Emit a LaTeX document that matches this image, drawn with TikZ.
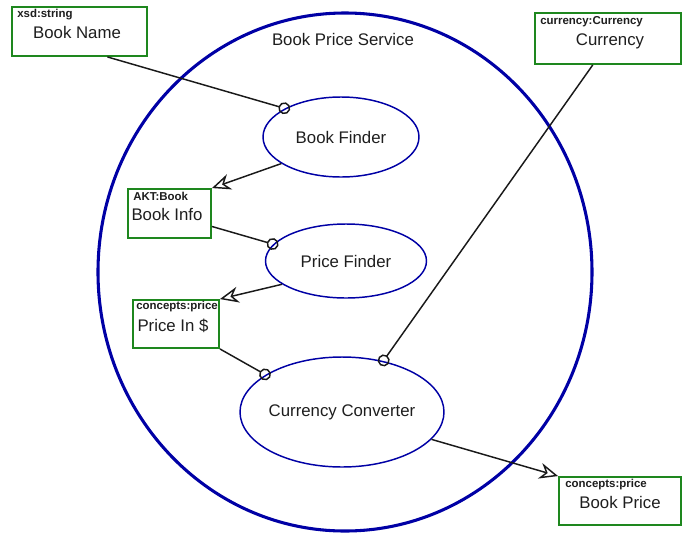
\documentclass[tikz,border=0pt]{standalone}
\usepackage{fontspec}
\setmainfont{Liberation Sans}
\usetikzlibrary{shapes.geometric,arrows.meta,calc}
\definecolor{svcblue}{RGB}{0,0,165}
\definecolor{boxgreen}{RGB}{30,135,30}
\definecolor{txt}{RGB}{30,30,30}
\tikzset{
  service/.style={ellipse,draw=svcblue,line width=1.1pt,inner sep=0pt},
  databox/.style={rectangle,draw=boxgreen,line width=1.4pt,fill=white,inner sep=0pt},
  typelbl/.style={anchor=west,inner sep=0pt,font=\fontsize{8.6}{9}\selectfont\bfseries,text=txt},
  mainlbl/.style={inner sep=0pt,font=\fontsize{12.6}{14}\selectfont,text=txt},
  conn/.style={draw=black!90,line width=1.1pt},
  inlink/.style={conn,-{Circle[open,length=9pt,line width=1.1pt]},shorten >=-4pt},
  outlink/.style={conn,-{Stealth[open,length=14pt,width=12pt,inset=4.5pt,line width=1.1pt]}}
}
\begin{document}
\begin{tikzpicture}[x=0.75pt,y=-0.75pt]
\useasboundingbox (0,0) rectangle (682,533);
% outer service
\node[ellipse,draw=svcblue,line width=2.3pt,minimum width=370.5pt,minimum height=388.5pt,inner sep=0pt] (outer) at (345,272) {};
\node[mainlbl] (title) at (343,39) {Book Price Service};
% inner services
\node[service,minimum width=117pt,minimum height=60pt] (bf) at (341,137) {};
\node[mainlbl] (bft) at (341,137) {Book Finder};
\node[service,minimum width=120.75pt,minimum height=55.5pt] (pf) at (346,261) {};
\node[mainlbl] (pft) at (346,261) {Price Finder};
\node[service,minimum width=153pt,minimum height=82.5pt] (cc) at (342,412) {};
\node[mainlbl] (cct) at (342,412) {Currency Converter};
% data boxes
\node[databox,minimum width=101.25pt,minimum height=36.75pt] (bn) at (79.5,31.5) {};
\node[typelbl] (bnty) at (17,15) {xsd:string};
\node[mainlbl] (bnt) at (77,32) {Book Name};
\node[databox,minimum width=109.5pt,minimum height=38.25pt] (cu) at (608,38.5) {};
\node[typelbl] (cuty) at (540,22) {currency:Currency};
\node[mainlbl] (cut) at (610,41) {Currency};
\node[databox,minimum width=62.25pt,minimum height=36.75pt] (bi) at (169.5,213.5) {};
\node[typelbl] (bity) at (133,196) {AKT:Book};
\node[mainlbl] (bit) at (167,214) {Book Info};
\node[databox,minimum width=64.5pt,minimum height=36pt] (pi) at (176,324) {};
\node[typelbl] (pity) at (136,307) {concepts:price};
\node[mainlbl] (pit) at (173,326) {Price In \$};
\node[databox,minimum width=91.5pt,minimum height=36pt] (bp) at (620,501) {};
\node[typelbl] (bpty) at (565,485) {concepts:price};
\node[mainlbl] (bpt) at (620,502) {Book Price};
% connectors
\draw[inlink] ($(bn.south west)!0.704!(bn.south east)$) -- (bf.153);
\draw[outlink] (bf.204) -- (bi.north east);
\draw[inlink] ($(bi.north east)!0.755!(bi.south east)$) -- (pf.167);
\draw[outlink] (pf.200) -- (pi.north east);
\draw[inlink] (pi.south east) -- (cc.154);
\draw[inlink] ($(cu.south west)!0.397!(cu.south east)$) -- (cc.51);
\draw[outlink] (cc.343) -- (bp.north west);
\end{tikzpicture}
\end{document}
